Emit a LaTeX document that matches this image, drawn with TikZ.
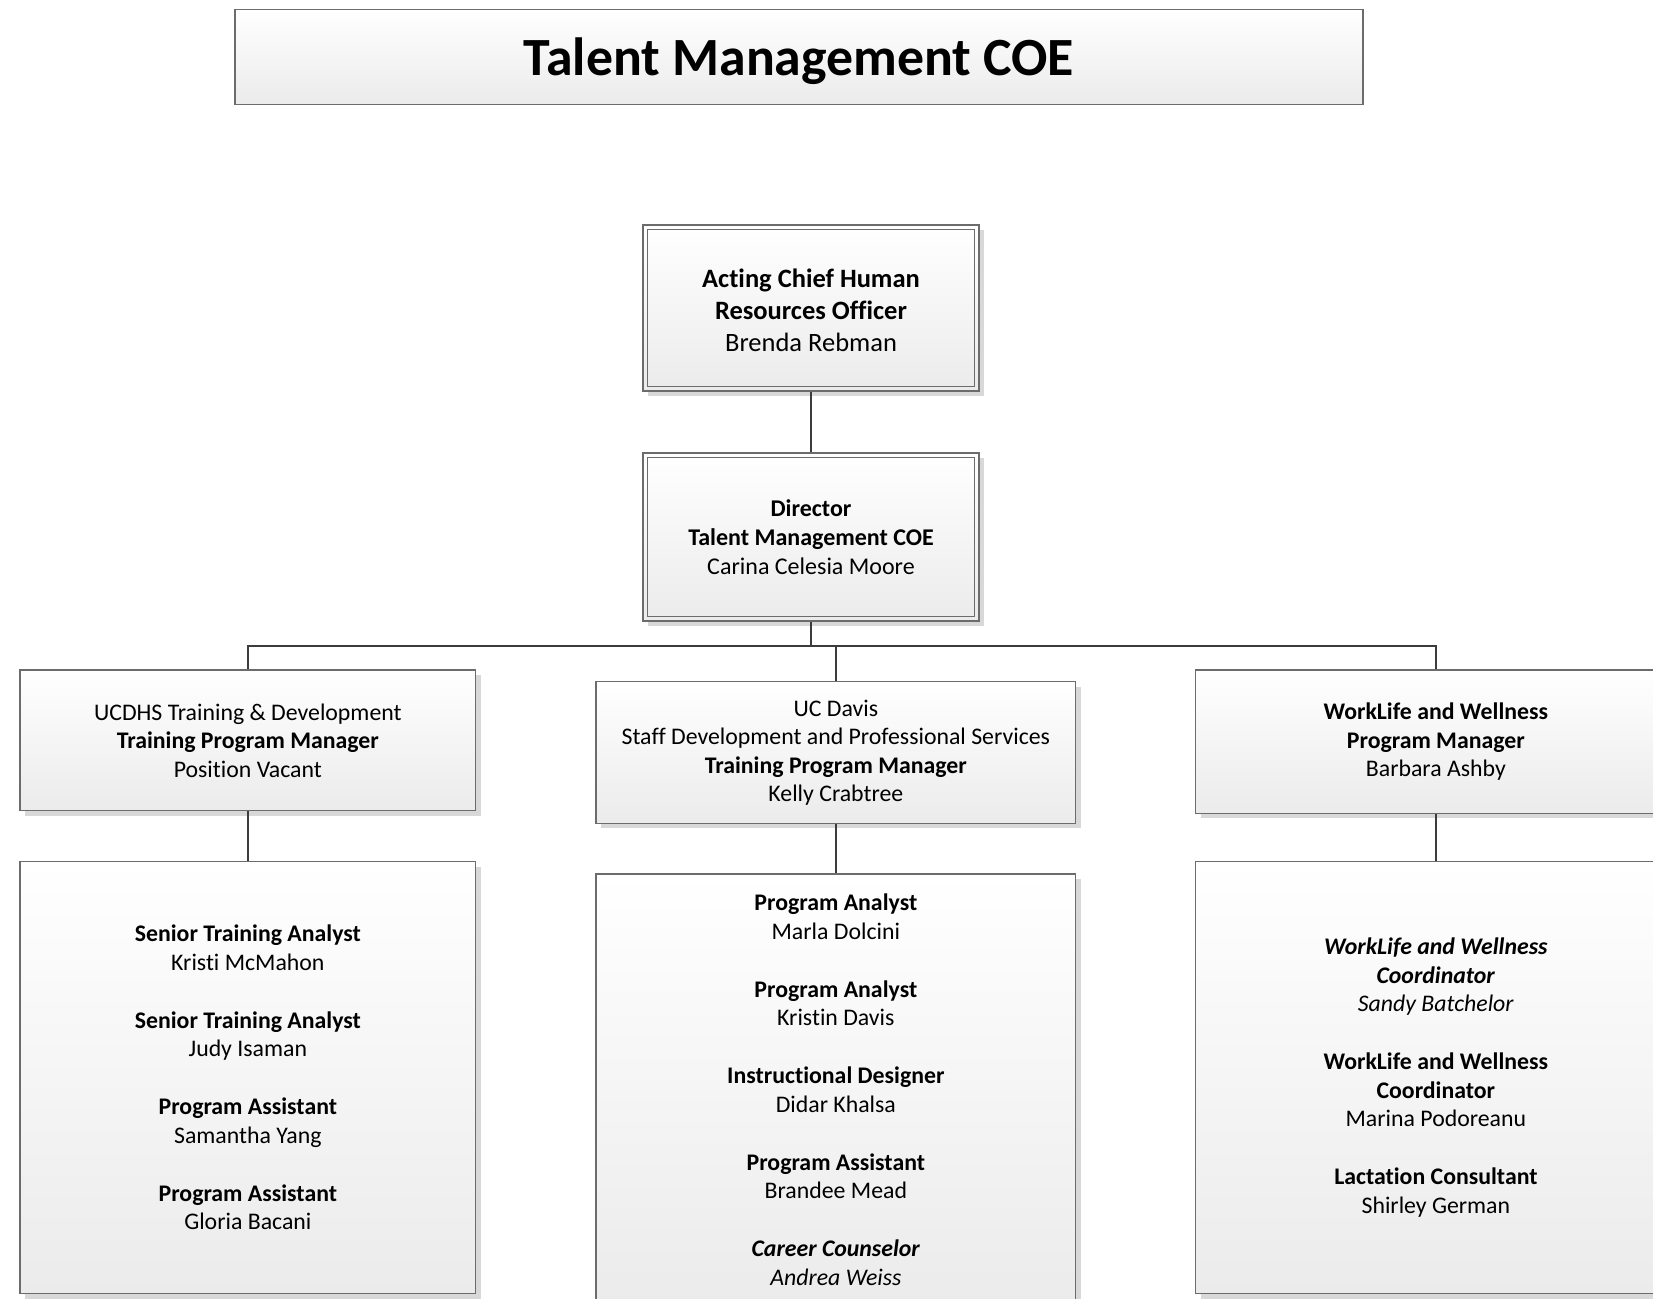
\documentclass[tikz,border=0pt]{standalone}
\usepackage{fontspec}
\setmainfont{Carlito}[RawFeature={-liga;-clig;-calt;-rlig;-dlig}]
\usetikzlibrary{shadows,calc}
\definecolor{boxline}{HTML}{6C6C6C}
\definecolor{connline}{HTML}{3C3C3C}
\definecolor{shade}{HTML}{D8D8D8}
\definecolor{boxbottom}{HTML}{EBEBEB}
\tikzset{
  orgbox/.style={draw=boxline, line width=1.1pt, top color=white, bottom color=boxbottom,
    rectangle, align=center, inner sep=0pt,
    drop shadow={shadow xshift=5pt, shadow yshift=-5pt, fill=shade, opacity=1},
    font={\fontsize{23.8}{28.5}\selectfont}},
  innerline/.style={draw=boxline, line width=1.1pt},
  conn/.style={draw=connline, line width=2.3pt},
  titlebox/.style={draw=boxline, line width=1.1pt, top color=white, bottom color=boxbottom,
    rectangle, align=center, inner sep=0pt, text depth=0pt, font={\fontsize{53.8}{60}\selectfont\bfseries}}
}
\begin{document}
\begin{tikzpicture}[x=1pt,y=-1pt]
\useasboundingbox (0,0) rectangle (1653,1298);
\clip (0,0) rectangle (1653,1298);
\fill[white] (0,0) rectangle (1653,1298);

\node[titlebox, minimum width=1128pt, minimum height=95pt] (title) at (799,57) {Talent Management COE};

\node[orgbox, minimum width=336pt, minimum height=166pt, font={\fontsize{26.5}{31.6}\selectfont}] (acting) at (811,308)
  {\rule{0pt}{23pt}\textbf{Acting Chief Human}\\\textbf{Resources Officer}\\Brenda Rebman};
\draw[innerline] ($(acting.north west)+(5,5)$) rectangle ($(acting.south east)+(-5,-5)$);

\node[orgbox, minimum width=336pt, minimum height=168pt, font={\fontsize{24}{29}\selectfont}] (director) at (811,537)
  {\textbf{Director}\\\textbf{Talent Management COE}\\Carina Celesia Moore};
\draw[innerline] ($(director.north west)+(5,5)$) rectangle ($(director.south east)+(-5,-5)$);

\node[orgbox, minimum width=455.7pt, minimum height=140.7pt] (uch) at (247.85,740.35)
  {UCDHS Training \& Development\\\textbf{Training Program Manager}\\Position Vacant};
\node[orgbox, minimum width=479.7pt, minimum height=141.6pt] (ucd) at (835.85,752.5)
  {UC Davis\\Staff Development and Professional Services\\\textbf{Training Program Manager}\\Kelly Crabtree};
\node[orgbox, minimum width=480.3pt, minimum height=143.3pt] (wlw) at (1435.85,741.65)
  {\textbf{WorkLife and Wellness}\\\textbf{Program Manager}\\Barbara Ashby};

\node[orgbox, minimum width=455.7pt, minimum height=432pt] (uchs) at (247.85,1077.5)
  {\textbf{Senior Training Analyst}\\Kristi McMahon\\[29.5pt]
   \textbf{Senior Training Analyst}\\Judy Isaman\\[29.5pt]
   \textbf{Program Assistant}\\Samantha Yang\\[29.5pt]
   \textbf{Program Assistant}\\Gloria Bacani};
\node[orgbox, minimum width=479.7pt, minimum height=431pt] (ucds) at (835.85,1089.5)
  {\textbf{Program Analyst}\\Marla Dolcini\\[29.5pt]
   \textbf{Program Analyst}\\Kristin Davis\\[29.5pt]
   \textbf{Instructional Designer}\\Didar Khalsa\\[29.5pt]
   \textbf{Program Assistant}\\Brandee Mead\\[29.5pt]
   \textbf{\textit{Career Counselor}}\\\textit{Andrea Weiss}};
\node[orgbox, minimum width=480.3pt, minimum height=432pt] (wlws) at (1435.85,1077.5)
  {\textbf{\textit{WorkLife and Wellness}}\\\textbf{\textit{Coordinator}}\\\textit{Sandy Batchelor}\\[29.5pt]
   \textbf{WorkLife and Wellness}\\\textbf{Coordinator}\\Marina Podoreanu\\[29.5pt]
   \textbf{Lactation Consultant}\\Shirley German};

\coordinate (bus) at (811,645.7);
\draw[conn] (acting.south) -- (director.north);
\draw[conn] (director.south) -- (bus);
\draw[conn] (bus) -| (uch.north);
\draw[conn] (bus) -| (ucd.north);
\draw[conn] (bus) -| (wlw.north);
\draw[conn] (uch.south) -- (uchs.north);
\draw[conn] (ucd.south) -- (ucds.north);
\draw[conn] (wlw.south) -- (wlws.north);
\end{tikzpicture}
\end{document}
